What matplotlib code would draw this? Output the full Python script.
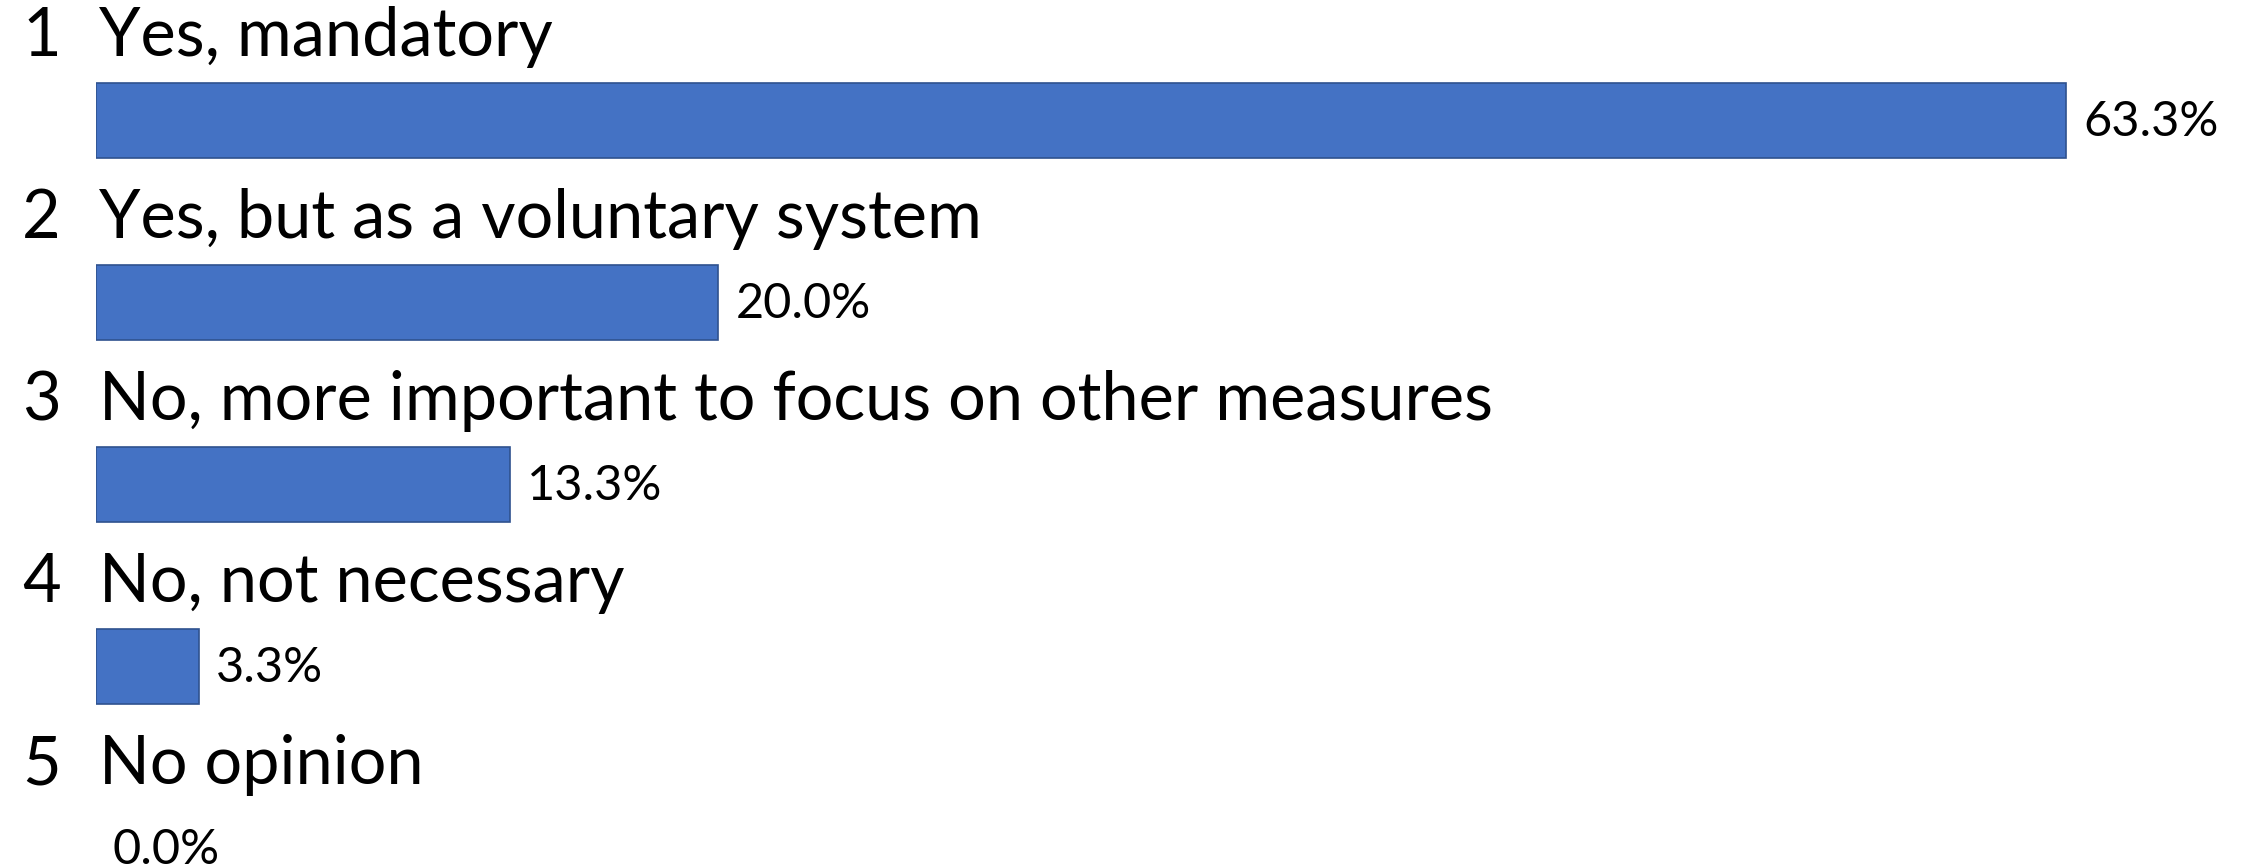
import numpy as np
import matplotlib
matplotlib.use("Agg")
import matplotlib.pyplot as plt

plt.rcParams['font.family'] = ['Lato', 'DejaVu Sans']

numbers = ['1', '2', '3', '4', '5']
answers = ['Yes, mandatory',
           'Yes, but as a voluntary system',
           'No, more important to focus on other measures',
           'No, not necessary',
           'No opinion']
shares = [63.3, 20.0, 13.3, 3.3, 0.0]

W, H = 2247, 868
fig = plt.figure(figsize=(W / 100, H / 100), dpi=100)
left = 96 / W
ax = fig.add_axes([left, 0, 1 - left, 1])

px_per_pct = (2066 - 96) / 63.3   # pixels per percent
row = 182.0                        # pixels per row
ax.set_xlim(0, (W - 96) / px_per_pct)
ax.set_ylim((H - 120) / row, -120 / row)
ax.axis('off')

ypos = np.arange(len(shares))
edges = ['#2F528F' if s > 0 else 'none' for s in shares]
ax.barh(ypos, shares, height=75 / row, color='#4472C4',
        edgecolor=edges, linewidth=1.2)

for i in range(len(shares)):
    ty = i - 83 / row
    ax.text(-74 / px_per_pct, ty, numbers[i], fontsize=48, va='center',
            ha='left', clip_on=False)
    ax.text(3 / px_per_pct, ty, answers[i], fontsize=48, va='center',
            ha='left', clip_on=False)
    ax.text(shares[i] + 17 / px_per_pct, i + 0.01, '%.1f%%' % shares[i],
            fontsize=35, va='center', ha='left', clip_on=False)

fig.savefig('out.png', dpi=100, facecolor='white')
